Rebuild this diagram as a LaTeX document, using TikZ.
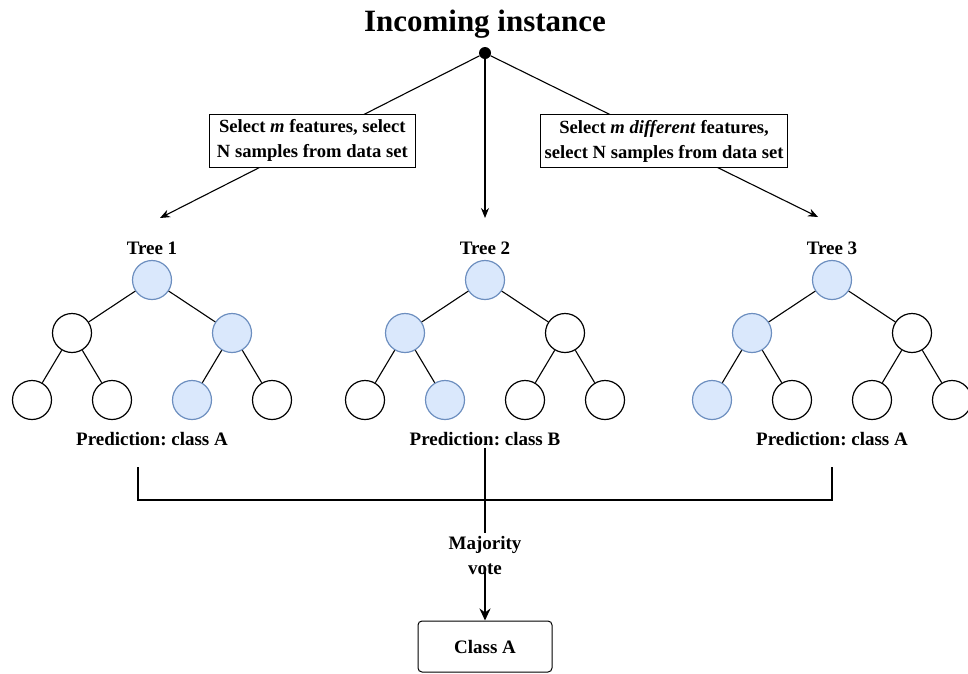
\documentclass[tikz,border=0pt]{standalone}
\usepackage{fontspec}
\setmainfont{Liberation Serif}
\usetikzlibrary{arrows.meta}
\frenchspacing
\definecolor{nodefill}{HTML}{DAE8FC}
\definecolor{nodeline}{HTML}{6C8EBF}
\tikzset{
  tnode/.style={circle, draw=black, fill=white, line width=1.2pt, minimum size=39pt, inner sep=0pt},
  hit/.style={tnode, draw=nodeline, fill=nodefill},
  edge/.style={line width=1.1pt},
  arr/.style={-{Stealth[length=10pt,width=8pt]}, line width=1.1pt},
  bar/.style={line width=1.8pt},
  lbl/.style={font=\fontsize{19}{25}\selectfont\bfseries, inner sep=3pt},
  selbox/.style={draw, fill=white, line width=1pt, align=center, minimum height=53pt,
    inner sep=3pt, font=\fontsize{18.6}{25}\selectfont\bfseries}
}
\begin{document}
\begin{tikzpicture}[x=1pt, y=-1pt]
  \useasboundingbox (0,0) rectangle (968,673);
  % source
  \node[font=\fontsize{31}{36}\selectfont\bfseries, anchor=base] (title) at (485,31) {Incoming instance};
  \node[circle, fill=black, minimum size=12pt, inner sep=0pt] (src) at (485,53) {};
  \coordinate (tip1) at (160,218);
  \coordinate (tip2) at (485,218);
  \coordinate (tip3) at (818,217);
  \draw[arr] (src) -- node[selbox, pos=0.523, minimum width=206pt] (sel1) {Select \textit{m} features, select\\N samples from data set} (tip1);
  \draw[arr] (src) -- (tip2);
  \draw[arr] (src) -- node[selbox, pos=0.53, minimum width=247pt] (sel3) {Select \textit{m different} features,\\select N samples from data set} (tip3);
  % trees
  \foreach \t/\cx/\ma/\mb/\kls in {1/152/2/3/A, 2/485/1/2/B, 3/832/1/1/A}{
    \node[lbl, anchor=base] (tl\t) at (\cx,254) {Tree \t};
    \node[hit] (t\t-r) at (\cx,280) {};
    \foreach \i/\dx in {1/-80,2/80}{
      \ifnum\i=\ma \def\st{hit}\else\def\st{tnode}\fi
      \node[\st] (t\t-a\i) at (\cx+\dx,333) {};
      \draw[edge] (t\t-r) -- (t\t-a\i);
    }
    \foreach \j/\dx in {1/-120,2/-40,3/40,4/120}{
      \ifnum\j=\mb \def\st{hit}\else\def\st{tnode}\fi
      \pgfmathtruncatemacro\up{(\j+1)/2}
      \node[\st] (t\t-l\j) at (\cx+\dx,400) {};
      \draw[edge] (t\t-a\up) -- (t\t-l\j);
    }
    \node[lbl, anchor=base] (p\t) at (\cx,445) {Prediction: class \kls};
  }
  % vote
  \coordinate (bl) at (138,467);
  \coordinate (mid) at (485,500);
  \coordinate (br) at (832,467);
  \draw[bar] (bl) |- (mid) -| (br);
  \node[lbl, align=center] (maj) at (485,555) {Majority\\vote};
  \draw[bar] (p2) -- (maj);
  \node[draw, rounded corners=4pt, line width=1pt, minimum width=134pt, minimum height=51pt,
    font=\fontsize{19}{25}\selectfont\bfseries] (cls) at (485,646.5) {Class A};
  \draw[-{Stealth[length=12pt,width=11pt]}, line width=1.8pt, shorten <=-5pt] (maj) -- (cls);
\end{tikzpicture}
\end{document}
